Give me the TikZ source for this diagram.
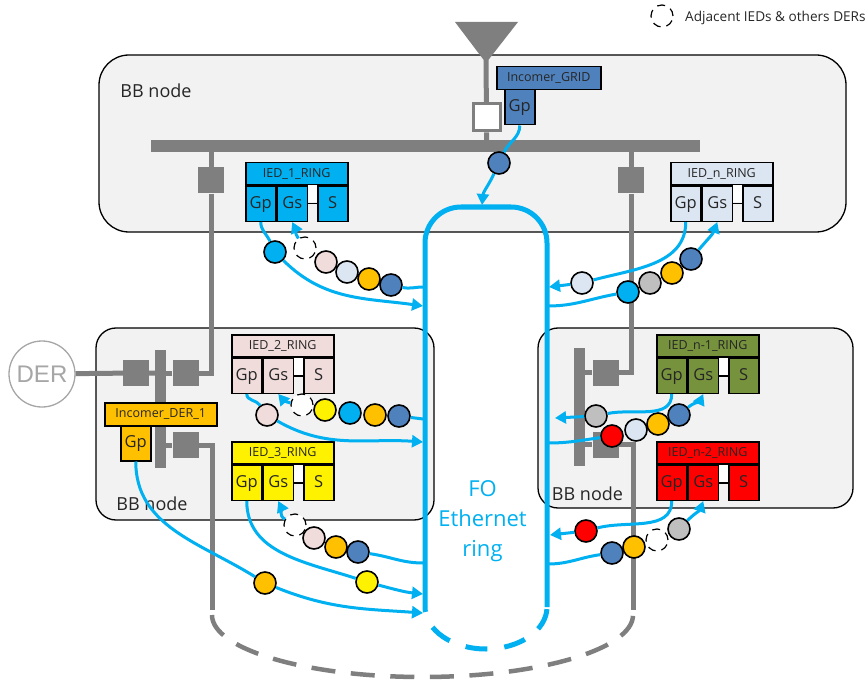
\documentclass[tikz,border=0pt]{standalone}
\usepackage{fontspec}
\setmainfont{Open Sans}
\newfontfamily\derfont{Liberation Sans}
\usetikzlibrary{arrows.meta}
\definecolor{ringblue}{HTML}{00B0F0}
\definecolor{gridgrey}{HTML}{7F7F7F}
\definecolor{bbfill}{HTML}{F2F2F2}
\definecolor{dergrey}{HTML}{A6A6A6}
\definecolor{darkblue}{HTML}{4F81BD}
\definecolor{paleblue}{HTML}{DCE6F2}
\definecolor{palepink}{HTML}{F0DCDB}
\definecolor{amber}{HTML}{FFC000}
\definecolor{olive}{HTML}{76923C}
\definecolor{midgrey}{HTML}{BFBFBF}
\tikzset{
  bbnode/.style={draw=black,fill=bbfill,line width=1.3pt,inner sep=0pt},
  bblabel/.style={font=\fontsize{18}{20}\selectfont,text=black!85},
  busbar/.style={fill=gridgrey,inner sep=0pt},
  swbox/.style={fill=gridgrey,inner sep=0pt,minimum size=26pt},
  feeder/.style={draw=gridgrey,line width=5pt},
  iedtitle/.style={draw=black,line width=1.5pt,inner sep=0pt,minimum width=102pt,minimum height=22pt,font=\fontsize{12.5}{14}\selectfont,text=black!85},
  iedcell/.style={draw=black,line width=1.5pt,inner sep=0pt,minimum width=30pt,minimum height=35pt,text height=12pt,text depth=3.5pt,font=\fontsize{16.5}{18}\selectfont,text=black!85},
  msgdot/.style={circle,draw=black,line width=1.6pt,inner sep=0pt,minimum size=22pt,fill=#1},
  adjdot/.style={circle,draw=black,line width=1.2pt,dash pattern=on 8pt off 6pt,inner sep=0pt,minimum size=22pt,fill=white},
  msglink/.style={draw=ringblue,line width=3pt},
  msgarrow/.style={msglink,-{Triangle[length=11pt,width=12pt]}}
}
% name, left, top, text, colour
\newcommand{\iedring}[5]{
  \node[iedtitle,fill=#5,anchor=north west] (#1t) at (#2,#3) {#4};
  \fill[white] (#1t.south east) ++(-30pt,0pt) rectangle ++(-12pt,-17pt);
  \node[iedcell,fill=#5,anchor=north west] (#1gp) at (#1t.south west) {Gp};
  \node[iedcell,fill=#5,anchor=north west] (#1gs) at (#1gp.north east) {Gs};
  \node[iedcell,fill=#5,anchor=north east] (#1s) at (#1t.south east) {S};
  \draw[line width=1.5pt] (#1gs) -- (#1s);
}
\begin{document}
\begin{tikzpicture}[x=1pt,y=-1pt]
  \useasboundingbox (0,0) rectangle (868,682);
  % station nodes
  \node[bbnode,rounded corners=30pt,minimum width=747pt,minimum height=177pt] (bbtop) at (472.5,143.5) {};
  \node[bbnode,rounded corners=20pt,minimum width=338pt,minimum height=192pt] (bbleft) at (265,424) {};
  \node[bbnode,rounded corners=20pt,minimum width=315pt,minimum height=180pt] (bbright) at (695.5,418) {};
  \node[bblabel] (bbtoplabel) at (156,91) {BB node};
  \node[bblabel] (bbleftlabel) at (152,504) {BB node};
  \node[bblabel] (bbrightlabel) at (587.5,494) {BB node};
  % grey network
  \fill[gridgrey] (455,22) -- (518,22) -- (486,63) -- cycle;
  \coordinate (apex) at (486,60);
  \node[busbar,minimum width=549pt,minimum height=12pt] (bustop) at (425.5,146) {};
  \node[busbar,minimum width=11pt,minimum height=118pt] (busleft) at (160.5,409) {};
  \node[busbar,minimum width=11pt,minimum height=118pt] (busright) at (579.5,407) {};
  \node[swbox] (swa) at (211,180.5) {};
  \node[swbox] (swb) at (631,180.5) {};
  \node[swbox] (swc) at (136,373) {};
  \node[swbox] (swd) at (185.5,373) {};
  \node[swbox] (swe) at (185.5,445) {};
  \node[swbox] (swf) at (605.5,372.5) {};
  \node[swbox] (swg) at (605.5,444.5) {};
  \node[circle,draw=dergrey,line width=1.3pt,fill=white,minimum size=66pt,inner sep=0pt,text=dergrey,font=\derfont\fontsize{24}{26}\selectfont] (der) at (42,374) {DER};
  \node[draw=gridgrey,line width=3pt,fill=white,minimum size=27pt,inner sep=0pt] (swgrid) at (486.5,117.5) {};
  \coordinate (endleft) at (212,610);
  \coordinate (endright) at (633,610);
  \draw[feeder] (apex) -- (swgrid) -- (swgrid |- bustop);
  \draw[feeder] (swa |- bustop) -- (swa) -- (swa |- swd) -- (swd) -- (swd -| busleft);
  \draw[feeder] (der) -- (swc) -- (swc -| busleft);
  \draw[feeder] (swe -| busleft) -- (swe) -- (swe -| endleft) -- (endleft);
  \draw[feeder] (swb |- bustop) -- (swb) -- (swb |- swf) -- (swf) -- (swf -| busright);
  \draw[feeder] (swg -| busright) -- (swg) -- (swg -| endright) -- (endright);
  \draw[gridgrey,line width=4.5pt,dash pattern=on 24pt off 15.6pt] (212,615) arc[start angle=180,end angle=360,x radius=210.5pt,y radius=62pt];
  % FO ring
  \draw[ringblue,line width=5pt,rounded corners=36pt] (425,607) -- (425,207) -- (547,207) -- (547,607);
  \draw[ringblue,line width=5pt,dash pattern=on 22pt off 17pt,dash phase=17pt] (425,607) arc[start angle=180,end angle=360,x radius=61pt,y radius=42pt];
  \node[text=ringblue,align=center,font=\fontsize{22}{30}\selectfont] (ringlabel) at (482.5,521) {FO\\Ethernet\\ring};
  \coordinate (ringin1) at (423,306);
  \coordinate (ringout1) at (423,287);
  \coordinate (ringin2) at (423,442);
  \coordinate (ringout2) at (423,419);
  \coordinate (ringin3) at (423,594);
  \coordinate (ringout3) at (423,563);
  \coordinate (ringin4) at (423,613);
  \coordinate (ringgrid) at (482,205);
  \coordinate (ringin5) at (549,287);
  \coordinate (ringout5) at (548,306);
  \coordinate (ringin6) at (555,418);
  \coordinate (ringout6) at (548,443);
  \coordinate (ringin7) at (550,535);
  \coordinate (ringout7) at (548,564);
  % IEDs
  \iedring{iedone}{245}{162}{IED\_1\_RING}{ringblue}
  \iedring{iedn}{670}{162}{IED\_n\_RING}{paleblue}
  \iedring{iedtwo}{231}{334}{IED\_2\_RING}{palepink}
  \iedring{iedthree}{231}{441}{IED\_3\_RING}{yellow}
  \iedring{iedna}{656}{334}{IED\_n-1\_RING}{olive}
  \iedring{iednb}{656}{441}{IED\_n-2\_RING}{red}
  \node[iedtitle,fill=darkblue,minimum width=104pt,minimum height=23pt,anchor=north west] (gridt) at (496,66) {Incomer\_GRID};
  \node[iedcell,fill=darkblue,anchor=north west] (gridgp) at (504,89) {Gp};
  \node[iedtitle,fill=amber,minimum width=112pt,minimum height=23pt,anchor=north west] (dert) at (104,402) {Incomer\_DER\_1};
  \node[iedcell,fill=amber,anchor=north west] (dergp) at (120,425) {Gp};
  % messages
  \node[msgdot=darkblue] (dgrid) at (499,163) {};
  \node[msgdot=ringblue] (dia) at (275,252) {};
  \node[adjdot] (dib) at (305,248) {};
  \node[msgdot=palepink] (dic) at (326,262) {};
  \node[msgdot=paleblue] (did) at (347,272) {};
  \node[msgdot=amber] (die) at (369,279) {};
  \node[msgdot=darkblue] (dif) at (391,285) {};
  \node[msgdot=paleblue] (dna) at (582,283) {};
  \node[msgdot=darkblue] (dne) at (691,259) {};
  \node[msgdot=amber] (dnd) at (672,273) {};
  \node[msgdot=midgrey] (dnc) at (650,283) {};
  \node[msgdot=ringblue] (dnb) at (628,292) {};
  \node[msgdot=palepink] (dtwa) at (267,415) {};
  \node[adjdot] (dtwb) at (302,405) {};
  \node[msgdot=yellow] (dtwc) at (325,410) {};
  \node[msgdot=ringblue] (dtwd) at (350,413) {};
  \node[msgdot=amber] (dtwe) at (375,415) {};
  \node[msgdot=darkblue] (dtwf) at (399,416) {};
  \node[msgdot=yellow] (dtha) at (367,582) {};
  \node[adjdot] (dthb) at (295,525) {};
  \node[msgdot=palepink] (dthc) at (314,538) {};
  \node[msgdot=amber] (dthd) at (336,547) {};
  \node[msgdot=darkblue] (dthe) at (358,552) {};
  \node[msgdot=amber] (dder) at (265,583) {};
  \node[msgdot=midgrey] (dnaa) at (596,416) {};
  \node[msgdot=darkblue] (dnae) at (679,415) {};
  \node[msgdot=amber] (dnad) at (658,424) {};
  \node[msgdot=paleblue] (dnac) at (636,430) {};
  \node[msgdot=red] (dnab) at (612,436) {};
  \node[msgdot=red] (dnba) at (586,531) {};
  \node[adjdot] (dnbc) at (657,540) {};
  \node[msgdot=midgrey] (dnbd) at (679,529) {};
  \node[msgdot=darkblue] (dnbb) at (612,553) {};
  \node[msgdot=amber] (dnbe) at (634,547) {};
  % legend
  \node[adjdot,fill=none] (legdot) at (662,16) {};
  \node[anchor=west,inner sep=0pt,font=\fontsize{13.6}{15}\selectfont,text=black!85] (legtext) at (685,18) {Adjacent IEDs \& others DERs};
  % blue links
  \draw[msglink] (gridgp.south) to[out=270,in=65] (dgrid);
  \draw[msgarrow] (dgrid) to[out=245,in=85] (ringgrid);
  \draw[msglink] (iedonegp.south) to[out=270,in=115] (dia);
  \draw[msgarrow] (dia) to[out=-45,in=172] (ringin1);
  \draw[msglink] (ringout1) to[out=180,in=-12] (dif);
  \draw[msgarrow] (dib) to[out=125,in=-65] (iedonegs.south);
  \draw[msglink] (iedngp.south) to[out=270,in=15] (dna);
  \draw[msgarrow] (dna) -- (ringin5);
  \draw[msglink] (ringout5) to[out=0,in=190] (dnb);
  \draw[msgarrow] (dne) to[out=50,in=-110] (iedngs.south);
  \draw[msglink] (iedtwogp.south) to[out=270,in=125] (dtwa);
  \draw[msgarrow] (dtwa) to[out=-30,in=176] (ringin2);
  \draw[msglink] (ringout2) -- (dtwf);
  \draw[msgarrow] (dtwb) to[out=170,in=-50] (iedtwogs.south);
  \draw[msglink] (iedthreegp.south) to[out=270,in=162] (dtha);
  \draw[msgarrow] (dtha) to[out=-15,in=174] (ringin3);
  \draw[msglink] (ringout3) to[out=180,in=-8] (dthe);
  \draw[msgarrow] (dthb) to[out=150,in=-65] (iedthreegs.south);
  \draw[msglink] (dergp.south) to[out=270,in=148] (dder);
  \draw[msgarrow] (dder) to[out=-22,in=176] (ringin4);
  \draw[msglink] (iednagp.south) to[out=270,in=12] (dnaa);
  \draw[msgarrow] (dnaa) -- (ringin6);
  \draw[msglink] (ringout6) to[out=0,in=188] (dnab);
  \draw[msgarrow] (dnae) to[out=40,in=-115] (iednags.south);
  \draw[msglink] (iednbgp.south) to[out=270,in=15] (dnba);
  \draw[msgarrow] (dnba) -- (ringin7);
  \draw[msglink] (ringout7) to[out=0,in=188] (dnbb);
  \draw[msgarrow] (dnbd) to[out=45,in=-110] (iednbgs.south);
\end{tikzpicture}
\end{document}
